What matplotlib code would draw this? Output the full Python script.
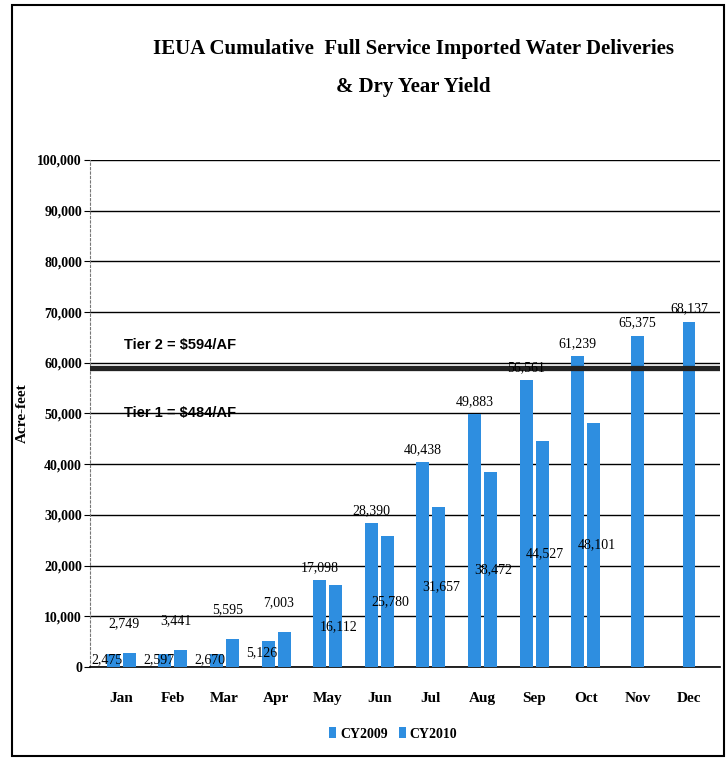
import matplotlib.pyplot as plt
import numpy as np

# donnees
months = ['Jan', 'Feb', 'Mar', 'Apr', 'May', 'Jun', 'Jul', 'Aug', 'Sep', 'Oct', 'Nov', 'Dec']
cy2009 = [2475, 2597, 2670, 5126, 17098, 28390, 40438, 49883, 56561, 61239, 65375, 68137]
cy2009_labels = ['2,475', '2,597', '2,670', '5,126', '17,098', '28,390', '40,438',
                 '49,883', '56,561', '61,239', '65,375', '68,137']
cy2010 = [2749, 3441, 5595, 7003, 16112, 25780, 31657, 38472, 44527, 48101]
cy2010_labels = ['2,749', '3,441', '5,595', '7,003', '16,112', '25,780', '31,657',
                 '38,472', '44,527', '48,101']
tier_level = 59000
y_ticks = np.arange(0, 100001, 10000)

serif = 'Liberation Serif'
narrow = ['Liberation Sans Narrow', 'Liberation Sans']
blue = '#2e8ee0'

fig = plt.figure(figsize=(7.28, 7.58), dpi=100)
ax = fig.add_axes([0.124, 0.12, 0.865, 0.669])

x = np.arange(len(months))
w = 0.25
off = 0.155

# barres CY2009 / CY2010
for i in range(len(months)):
    if i < len(cy2010):
        x1, x2 = x[i] - off, x[i] + off
    else:
        x1 = x[i]
    ax.bar(x1, cy2009[i], width=w, color=blue, zorder=3,
           label='CY2009' if i == 0 else None)
    if i < len(cy2010):
        ax.bar(x2, cy2010[i], width=w, color=blue, zorder=3,
               label='CY2010' if i == 0 else None)
        # etiquette au-dessus pour la plus haute, au milieu pour l'autre
        if cy2009[i] >= cy2010[i]:
            ax.text(x1, cy2009[i] + 1200, cy2009_labels[i], ha='center', va='bottom',
                    fontsize=10, family=serif, zorder=5)
            ax.text(x2 + 0.05, cy2010[i] / 2, cy2010_labels[i], ha='center', va='center',
                    fontsize=10, family=serif, zorder=5)
        else:
            ax.text(x1 - 0.12, cy2009[i] * 0.55, cy2009_labels[i], ha='center', va='center',
                    fontsize=10, family=serif, zorder=5)
            ax.text(x2 - 0.1, cy2010[i] + 4500, cy2010_labels[i], ha='center', va='bottom',
                    fontsize=10, family=serif, zorder=5)
    else:
        ax.text(x1, cy2009[i] + 1200, cy2009_labels[i], ha='center', va='bottom',
                fontsize=10, family=serif, zorder=5)

# ligne tier
ax.axhline(tier_level, color='#222222', lw=3.8, zorder=4)
ax.text(0.05, tier_level + 4500, 'Tier 2 = $594/AF', fontsize=10.5, family=narrow,
        fontweight='bold', ha='left', va='center', zorder=5)
ax.text(0.05, tier_level - 9000, 'Tier 1 = $484/AF', fontsize=10.5, family=narrow,
        fontweight='bold', ha='left', va='center', zorder=5)

ax.set_ylim(0, 100000)
ax.set_xlim(-0.6, 11.6)
ax.set_yticks(y_ticks)
ax.set_yticklabels([f'{v:,}' for v in y_ticks], family=serif, fontsize=10, fontweight='bold')
ax.set_xticks(x)
ax.set_xticklabels(months, family=serif, fontsize=11, fontweight='bold')
ax.tick_params(axis='x', length=0, pad=18)
ax.tick_params(axis='y', length=4, pad=2)
ax.grid(axis='y', color='black', lw=1.0, zorder=1)
for s in ['top', 'right']:
    ax.spines[s].set_visible(False)
ax.spines['left'].set_linestyle((0, (2, 2)))
ax.spines['left'].set_color('#777777')
ax.spines['bottom'].set_linewidth(1.2)
ax.set_ylabel('Acre-feet', family=serif, fontsize=11, fontweight='bold', labelpad=6)

fig.text(0.568, 0.935, 'IEUA Cumulative  Full Service Imported Water Deliveries',
         ha='center', va='center', fontsize=15, fontweight='bold', family=serif)
fig.text(0.568, 0.885, '& Dry Year Yield', ha='center', va='center',
         fontsize=15, fontweight='bold', family=serif)

fig.legend(loc='center', bbox_to_anchor=(0.54, 0.032), ncol=2, frameon=False,
           prop={'family': serif, 'size': 10, 'weight': 'bold'},
           handlelength=0.5, handleheight=0.9, handletextpad=0.3, columnspacing=0.8)

# cadre autour de la figure
fig.add_artist(plt.Rectangle((0.017, 0.003), 0.978, 0.99, transform=fig.transFigure,
                             fill=False, edgecolor='black', lw=1.5))

plt.savefig('out.png', dpi=100)
